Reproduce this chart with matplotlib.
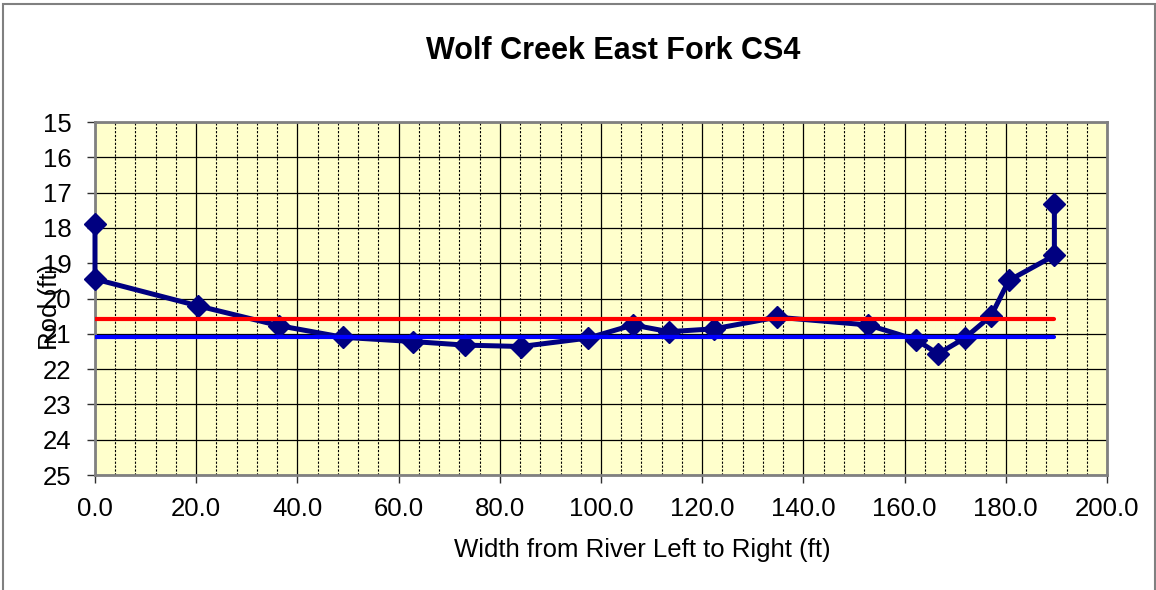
import matplotlib
matplotlib.use("Agg")
from matplotlib import pyplot as plt
from matplotlib.patches import Rectangle
from matplotlib.ticker import MultipleLocator, FormatStrFormatter

plt.rcParams['font.family'] = ['Liberation Sans', 'DejaVu Sans']

# surveyed cross section: distance from left bank and rod reading
width_ft = [0.0, 0.0, 20.4, 36.4, 49.1, 62.9, 73.1, 84.2, 97.5, 106.3, 113.4,
            122.3, 134.8, 152.8, 162.3, 166.6, 171.9, 177.1, 180.6, 189.6, 189.6]
rod_ft = [17.9, 19.45, 20.21, 20.77, 21.10, 21.22, 21.32, 21.36, 21.12, 20.75, 20.94,
          20.86, 20.53, 20.75, 21.17, 21.57, 21.12, 20.49, 19.49, 18.78, 17.33]

# reference water levels across the section
span = [0.0, 189.6]
red_level = [20.59, 20.59]
blue_level = [21.1, 21.1]

W, H = 1156, 590
fig = plt.figure(figsize=(W / 100, H / 100), dpi=100)
ax = fig.add_axes([95 / W, 1 - 475 / H, 1012 / W, 353 / H])
ax.set_facecolor('#FFFFCC')

ax.plot(width_ft, rod_ft, color='#000080', lw=3.6, marker='D', markersize=11,
        markerfacecolor='#000080', markeredgecolor='#000080', zorder=3,
        clip_on=False)
ax.plot(span, red_level, color='#FF0000', lw=3.0, solid_capstyle='round', zorder=4)
ax.plot(span, blue_level, color='#0000FF', lw=3.0, solid_capstyle='round', zorder=4)

ax.set_xlim(0, 200)
ax.set_ylim(25, 15)
ax.xaxis.set_major_locator(MultipleLocator(20))
ax.xaxis.set_minor_locator(MultipleLocator(4))
ax.xaxis.set_major_formatter(FormatStrFormatter('%.1f'))
ax.yaxis.set_major_locator(MultipleLocator(1))

ax.grid(which='major', color='black', lw=0.9, zorder=1)
ax.grid(which='minor', axis='x', color='black', lw=0.8, linestyle=(0, (2, 1.5)), zorder=1)
ax.set_axisbelow(True)

for s in ax.spines.values():
    s.set_color('#808080')
    s.set_linewidth(2)

ax.tick_params(which='major', direction='out', length=6, width=1, color='#303030',
               labelsize=18.5, pad=10)
ax.tick_params(axis='y', pad=11)
ax.tick_params(which='minor', length=0)

fig.text(613.5 / W, 1 - 59.3 / H, 'Wolf Creek East Fork CS4', fontsize=22,
         fontweight='bold', ha='center', va='baseline')
fig.text(642.5 / W, 1 - 556.7 / H, 'Width from River Left to Right (ft)',
         fontsize=18.5, ha='center', va='baseline')
fig.text(50 / W, 1 - 307 / H, 'Rod (ft)', fontsize=18.5, rotation=90,
         ha='center', va='center')

# outer chart frame
fig.patches.append(Rectangle((3 / W, -0.01), 1152 / W, 1 - 4 / H + 0.01,
                             transform=fig.transFigure, fill=False,
                             edgecolor='#808080', lw=1.5))

fig.savefig('out.png', dpi=100)
